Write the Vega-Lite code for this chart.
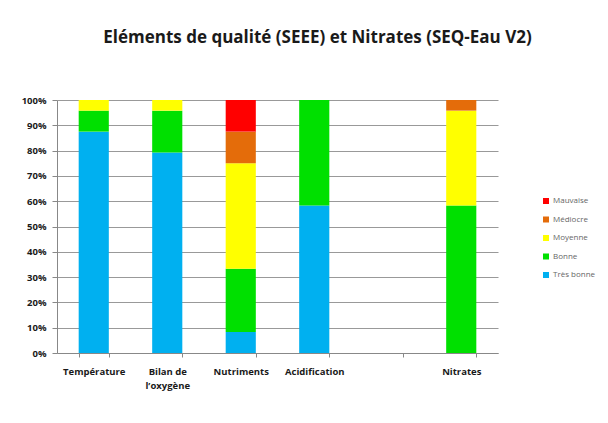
{
  "$schema": "https://vega.github.io/schema/vega-lite/v6.json",
  "autosize": {"type": "none"},
  "width": 441,
  "height": 253,
  "padding": {"left": 57, "top": 100, "right": 110, "bottom": 70},
  "background": "white",
  "title": {
    "text": "Eléments de qualité (SEEE) et Nitrates (SEQ-Eau V2)",
    "font": "Open Sans",
    "fontSize": 17,
    "fontWeight": "bold",
    "color": "#1a1a1a",
    "anchor": "middle",
    "dx": 40,
    "offset": 48
  },
  "config": {
    "view": {"stroke": null},
    "font": "Open Sans"
  },
  "data": {
    "values": [
      {"categorie": "Température", "qualite": "Très bonne", "classe": 1, "pct": 87.5},
      {"categorie": "Température", "qualite": "Bonne", "classe": 2, "pct": 8.3},
      {"categorie": "Température", "qualite": "Moyenne", "classe": 3, "pct": 4.2},
      {"categorie": "Bilan de l’oxygène", "qualite": "Très bonne", "classe": 1, "pct": 79.2},
      {"categorie": "Bilan de l’oxygène", "qualite": "Bonne", "classe": 2, "pct": 16.6},
      {"categorie": "Bilan de l’oxygène", "qualite": "Moyenne", "classe": 3, "pct": 4.2},
      {"categorie": "Nutriments", "qualite": "Très bonne", "classe": 1, "pct": 8.3},
      {"categorie": "Nutriments", "qualite": "Bonne", "classe": 2, "pct": 25.0},
      {"categorie": "Nutriments", "qualite": "Moyenne", "classe": 3, "pct": 41.7},
      {"categorie": "Nutriments", "qualite": "Médiocre", "classe": 4, "pct": 12.5},
      {"categorie": "Nutriments", "qualite": "Mauvaise", "classe": 5, "pct": 12.5},
      {"categorie": "Acidification", "qualite": "Très bonne", "classe": 1, "pct": 58.3},
      {"categorie": "Acidification", "qualite": "Bonne", "classe": 2, "pct": 41.7},
      {"categorie": "Nitrates", "qualite": "Bonne", "classe": 2, "pct": 58.3},
      {"categorie": "Nitrates", "qualite": "Moyenne", "classe": 3, "pct": 37.5},
      {"categorie": "Nitrates", "qualite": "Médiocre", "classe": 4, "pct": 4.2}
    ]
  },
  "mark": {"type": "bar"},
  "encoding": {
    "x": {
      "field": "categorie",
      "type": "nominal",
      "scale": {
        "domain": ["Température", "Bilan de l’oxygène", "Nutriments", "Acidification", " ", "Nitrates"],
        "paddingInner": 0.59,
        "paddingOuter": 0.295
      },
      "axis": {
        "title": null,
        "labelAngle": 0,
        "labelFont": "Open Sans",
        "labelFontSize": 9.5,
        "labelFontWeight": "bold",
        "labelColor": "#1a1a1a",
        "labelPadding": 9,
        "labelExpr": "datum.label == 'Bilan de l’oxygène' ? ['Bilan de', 'l’oxygène'] : datum.label",
        "labelLineHeight": 14,
        "tickBand": "extent",
        "tickSize": 4,
        "tickColor": "#888888",
        "domainColor": "#888888",
        "grid": false
      }
    },
    "y": {
      "field": "pct",
      "type": "quantitative",
      "stack": "zero",
      "scale": {"domain": [0, 100], "nice": false},
      "axis": {
        "title": null,
        "values": [0, 10, 20, 30, 40, 50, 60, 70, 80, 90, 100],
        "labelExpr": "datum.value + '%'",
        "labelFont": "Open Sans",
        "labelFontSize": 9.5,
        "labelFontWeight": "bold",
        "labelColor": "#1a1a1a",
        "labelPadding": 6,
        "tickSize": 5,
        "tickColor": "#888888",
        "domainColor": "#888888",
        "gridColor": "#999999",
        "gridWidth": 1
      }
    },
    "color": {
      "field": "qualite",
      "type": "nominal",
      "scale": {
        "domain": ["Mauvaise", "Médiocre", "Moyenne", "Bonne", "Très bonne"],
        "range": ["#FF0000", "#E46C0A", "#FFFF00", "#00E000", "#00B0F0"]
      },
      "legend": {
        "title": null,
        "orient": "none",
        "legendX": 485,
        "legendY": 97,
        "symbolType": "square",
        "symbolSize": 36,
        "symbolStrokeWidth": 0,
        "labelFont": "Open Sans",
        "labelFontSize": 8,
        "labelColor": "#666666",
        "labelOffset": 3,
        "rowPadding": 10.5
      }
    },
    "order": {"field": "classe", "type": "quantitative", "sort": "ascending"}
  }
}
